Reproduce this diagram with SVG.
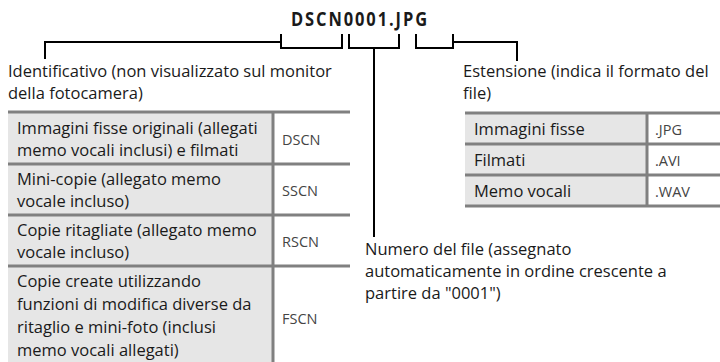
<svg xmlns="http://www.w3.org/2000/svg" width="720" height="362" viewBox="0 0 720 362">
<style>
text{font-family:"Open Sans","Noto Sans","Liberation Sans",sans-serif;font-size:16.5px;fill:#1a1a1a}
.title{font-weight:bold;font-size:19px;letter-spacing:2.2px}
.code{fill:#444;font-size:14.5px}
.conn{fill:none;stroke:#000;stroke-width:2}
.lab{fill:#e6e6e6}
.val{fill:#fff}
.bd{stroke:#808080;stroke-width:3;fill:none}
</style>
<rect width="720" height="362" fill="#fff"/>
<g id="title"><text class="title" x="291" y="26" textLength="138" lengthAdjust="spacingAndGlyphs">DSCN0001.JPG</text></g>
<g id="connectors">
<path class="conn" d="M45,59 V42 H281 M281,34 V48 H342 V34"/>
<path class="conn" d="M349,34 V48 H399 V34 M374,48 V237"/>
<path class="conn" d="M416,34 V48 H453 V34 M453,42 H517 V61"/>
</g>
<g id="identificativo">
<text x="8" y="77">Identificativo (non visualizzato sul monitor</text>
<text x="8" y="99">della fotocamera)</text>
</g>
<g id="estensione">
<text x="463" y="77">Estensione (indica il formato del</text>
<text x="463" y="99">file)</text>
</g>
<g id="numero">
<text x="365" y="255">Numero del file (assegnato</text>
<text x="365" y="277">automaticamente in ordine crescente a</text>
<text x="365" y="299">partire da "0001")</text>
</g>
<g id="table-left">
<rect class="lab" x="8" y="112" width="265" height="252"/>
<rect class="val" x="273" y="112" width="77" height="252"/>
<path class="bd" d="M8,112 H350 M8,164 H350 M8,215 H350 M8,266 H350 M273,112 V362"/>
<text x="17" y="134">Immagini fisse originali (allegati</text>
<text x="17" y="156">memo vocali inclusi) e filmati</text>
<text class="code" x="282" y="145">DSCN</text>
<text x="17" y="185">Mini-copie (allegato memo</text>
<text x="17" y="207">vocale incluso)</text>
<text class="code" x="282" y="196">SSCN</text>
<text x="17" y="236">Copie ritagliate (allegato memo</text>
<text x="17" y="258">vocale incluso)</text>
<text class="code" x="282" y="247">RSCN</text>
<text x="17" y="287">Copie create utilizzando</text>
<text x="17" y="310">funzioni di modifica diverse da</text>
<text x="17" y="333">ritaglio e mini-foto (inclusi</text>
<text x="17" y="356">memo vocali allegati)</text>
<text class="code" x="282" y="324">FSCN</text>
</g>
<g id="table-right">
<rect class="lab" x="465" y="113" width="182" height="93"/>
<rect class="val" x="647" y="113" width="73" height="93"/>
<path class="bd" d="M465,113 H720 M465,144 H720 M465,175 H720 M465,206 H720 M647,113 V206"/>
<text x="474" y="135">Immagini fisse</text>
<text class="code" x="655" y="135">.JPG</text>
<text x="474" y="166">Filmati</text>
<text class="code" x="655" y="166">.AVI</text>
<text x="474" y="197">Memo vocali</text>
<text class="code" x="655" y="197">.WAV</text>
</g>
</svg>
